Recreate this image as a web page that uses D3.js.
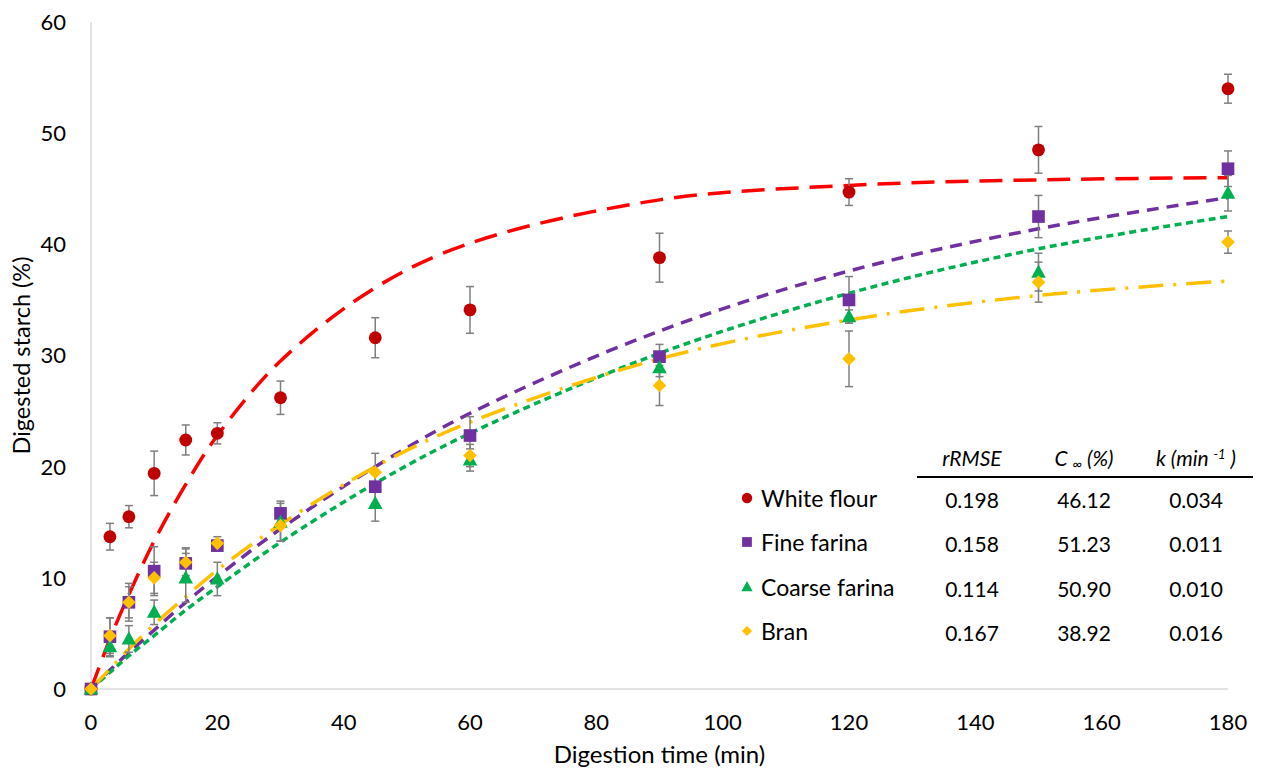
<!DOCTYPE html>
<html>
<head>
<meta charset="utf-8">
<script src="https://cdn.jsdelivr.net/npm/d3@7/dist/d3.min.js"></script>
<style>
  body { margin: 0; background: #fff; }
  text { font-family: Lato, 'Open Sans', sans-serif; fill: #000; }
</style>
</head>
<body>
<svg id="chart" width="1263" height="774"></svg>
<script>
'use strict';

// ── Data ──────────────────────────────────────────────────────────────────
const times = [0, 3, 6, 10, 15, 20, 30, 45, 60, 90, 120, 150, 180];

const whiteFlour    = [0, 13.7, 15.5, 19.4, 22.4, 23.0, 26.2, 31.6, 34.1, 38.8, 44.7, 48.5, 54.0];
const whiteFlourErr = [0, 1.2, 1.0, 2.0, 1.35, 0.95, 1.5, 1.8, 2.1, 2.2, 1.2, 2.1, 1.3];
const fineFarina    = [0, 4.7, 7.8, 10.6, 11.3, 12.9, 15.8, 18.2, 22.8, 29.9, 35.0, 42.5, 46.8];
const fineFarinaErr = [0, 1.7, 1.7, 2.2, 1.4, 0.5, 1.1, 1.5, 1.7, 1.1, 2.1, 1.9, 1.6];
const coarseFarina    = [0, 3.8, 4.5, 6.9, 10.0, 9.9, 15.0, 16.7, 20.6, 28.9, 33.5, 37.5, 44.6];
const coarseFarinaErr = [0, 0.9, 1.2, 1.1, 2.2, 1.5, 1.7, 1.6, 1.0, 0.8, 0.6, 1.7, 1.6];
const bran    = [0, 4.8, 7.8, 10.0, 11.4, 13.1, 14.7, 19.5, 21.0, 27.3, 29.7, 36.6, 40.2];
const branErr = [0, 1.6, 1.4, 1.4, 1.2, 0.6, 1.4, 1.7, 1.0, 1.8, 2.5, 1.8, 1.0];

// fitted first-order curves, read at the sampling times
const fitWhite  = [0, 4.5, 8.5, 13.3, 18.4, 22.8, 29.5, 36.1, 40.1, 44.0, 45.3, 45.8, 46.0];
const fitFine   = [0, 1.7, 3.3, 5.3, 7.8, 10.1, 14.4, 20.0, 24.8, 32.2, 37.6, 41.4, 44.2];
const fitCoarse = [0, 1.5, 3.0, 4.8, 7.1, 9.2, 13.2, 18.5, 23.0, 30.2, 35.6, 39.6, 42.5];
const fitBran   = [0, 1.8, 3.6, 5.8, 8.3, 10.7, 14.8, 20.0, 24.0, 29.7, 33.2, 35.4, 36.7];

const seriesNames = ['White flour', 'Fine farina', 'Coarse farina', 'Bran'];
const rRMSE = ['0.198', '0.158', '0.114', '0.167'];
const cInf  = ['46.12', '51.23', '50.90', '38.92'];
const kRate = ['0.034', '0.011', '0.010', '0.016'];

const xTicks = [0, 20, 40, 60, 80, 100, 120, 140, 160, 180];
const yTicks = [0, 10, 20, 30, 40, 50, 60];

// ── Layout ────────────────────────────────────────────────────────────────
const svg = d3.select('#chart');
const X0 = 91, X1 = 1228, Y0 = 689, Y1 = 22;

const x = d3.scaleLinear().domain([0, 180]).range([X0, X1]);
const y = d3.scaleLinear().domain([0, 60]).range([Y0, Y1]);

// Marker shapes (Excel style)
const triangleType = {
  draw(ctx, size) {
    const s = Math.sqrt(size);
    ctx.moveTo(0, -s * 0.58);
    ctx.lineTo(s * 0.55, s * 0.42);
    ctx.lineTo(-s * 0.55, s * 0.42);
    ctx.closePath();
  }
};
const diamondType = {
  draw(ctx, size) {
    const s = Math.sqrt(size) / 2;
    ctx.moveTo(0, -s); ctx.lineTo(s, 0); ctx.lineTo(0, s); ctx.lineTo(-s, 0);
    ctx.closePath();
  }
};

const series = [
  { name: seriesNames[0], vals: whiteFlour,   err: whiteFlourErr,   fit: fitWhite,
    marker: '#C00000', line: '#FF0000', dash: '23,11',          type: d3.symbolCircle, size: 130, lsize: 85 },
  { name: seriesNames[1], vals: fineFarina,   err: fineFarinaErr,   fit: fitFine,
    marker: '#7030A0', line: '#7030A0', dash: '12,8',           type: d3.symbolSquare, size: 160, lsize: 95 },
  { name: seriesNames[2], vals: coarseFarina, err: coarseFarinaErr, fit: fitCoarse,
    marker: '#00B050', line: '#00B050', dash: '7,4.5',          type: triangleType,    size: 175, lsize: 105 },
  { name: seriesNames[3], vals: bran,         err: branErr,         fit: fitBran,
    marker: '#FFC000', line: '#FFC000', dash: '25,10,3,10',     type: diamondType,     size: 185, lsize: 105 }
];

// ── Axes ──────────────────────────────────────────────────────────────────
svg.append('line')
  .attr('x1', X0).attr('x2', X0).attr('y1', Y1).attr('y2', Y0)
  .attr('stroke', '#d9d9d9').attr('stroke-width', 1.5);
svg.append('line')
  .attr('x1', X0).attr('x2', X1).attr('y1', Y0).attr('y2', Y0)
  .attr('stroke', '#d9d9d9').attr('stroke-width', 1.5);

svg.append('g').selectAll('text')
  .data(yTicks).join('text')
  .attr('x', 66).attr('y', d => y(d))
  .attr('dy', '0.36em')
  .attr('text-anchor', 'end')
  .attr('font-size', '22px')
  .text(d => d);

svg.append('g').selectAll('text')
  .data(xTicks).join('text')
  .attr('x', d => x(d)).attr('y', 730)
  .attr('text-anchor', 'middle')
  .attr('font-size', '22px')
  .text(d => d);

svg.append('text')
  .attr('x', (X0 + X1) / 2).attr('y', 763)
  .attr('text-anchor', 'middle')
  .attr('font-size', '24px')
  .text('Digestion time (min)');

svg.append('text')
  .attr('transform', `translate(30, ${(Y0 + Y1) / 2}) rotate(-90)`)
  .attr('text-anchor', 'middle')
  .attr('font-size', '23.5px')
  .text('Digested starch (%)');

// ── Fitted curves ─────────────────────────────────────────────────────────
const line = d3.line()
  .x((d, i) => x(times[i]))
  .y(d => y(d))
  .curve(d3.curveCatmullRom.alpha(0.5));

series.forEach(s => {
  svg.append('path')
    .attr('d', line(s.fit))
    .attr('fill', 'none')
    .attr('stroke', s.line)
    .attr('stroke-width', 3.5)
    .attr('stroke-dasharray', s.dash);
});

// ── Error bars ────────────────────────────────────────────────────────────
const eb = svg.append('g').attr('stroke', '#7f7f7f').attr('stroke-width', 1.5);
series.forEach(s => {
  s.vals.forEach((v, i) => {
    const e = s.err[i];
    if (!e) return;
    const cx = x(times[i]);
    eb.append('line').attr('x1', cx).attr('x2', cx).attr('y1', y(v + e)).attr('y2', y(v - e));
    eb.append('line').attr('x1', cx - 4).attr('x2', cx + 4).attr('y1', y(v + e)).attr('y2', y(v + e));
    eb.append('line').attr('x1', cx - 4).attr('x2', cx + 4).attr('y1', y(v - e)).attr('y2', y(v - e));
  });
});

// ── Markers ───────────────────────────────────────────────────────────────
series.forEach(s => {
  svg.append('g').selectAll('path')
    .data(s.vals).join('path')
    .attr('transform', (d, i) => `translate(${x(times[i])}, ${y(d)})`)
    .attr('d', d3.symbol().type(s.type).size(s.size))
    .attr('fill', s.marker);
});

// ── Legend ────────────────────────────────────────────────────────────────
const rowY = [499, 543, 588, 632];
series.forEach((s, i) => {
  svg.append('path')
    .attr('transform', `translate(747, ${rowY[i] - 1})`)
    .attr('d', d3.symbol().type(s.type).size(s.lsize))
    .attr('fill', s.marker);
  svg.append('text')
    .attr('x', 761).attr('y', rowY[i])
    .attr('dy', '0.36em')
    .attr('font-size', '23px')
    .text(s.name);
});

// ── Parameter table ───────────────────────────────────────────────────────
const colX = [972, 1084, 1196];
const head = svg.append('g').attr('font-size', '21px').attr('font-style', 'italic');
head.append('text').attr('x', colX[0]).attr('y', 458).attr('dy', '0.36em')
  .attr('text-anchor', 'middle').text('rRMSE');

const cHead = head.append('text').attr('x', colX[1]).attr('y', 458).attr('dy', '0.36em')
  .attr('text-anchor', 'middle');
cHead.append('tspan').text('C ');
cHead.append('tspan').attr('font-size', '14px').attr('dy', '3').text('∞');
cHead.append('tspan').attr('dy', '-3').text(' (%)');

const kHead = head.append('text').attr('x', colX[2]).attr('y', 458).attr('dy', '0.36em')
  .attr('text-anchor', 'middle');
kHead.append('tspan').text('k (min ');
kHead.append('tspan').attr('font-size', '13px').attr('dy', '-7').text('-1');
kHead.append('tspan').attr('dy', '7').text(' )');

svg.append('line')
  .attr('x1', 917).attr('x2', 1253).attr('y1', 477).attr('y2', 477)
  .attr('stroke', '#000').attr('stroke-width', 2.2);

[rRMSE, cInf, kRate].forEach((col, c) => {
  svg.append('g').selectAll('text')
    .data(col).join('text')
    .attr('x', colX[c]).attr('y', (d, i) => rowY[i] + 1)
    .attr('dy', '0.36em')
    .attr('text-anchor', 'middle')
    .attr('font-size', '21px')
    .attr('fill', '#262626')
    .text(d => d);
});
</script>
</body>
</html>
